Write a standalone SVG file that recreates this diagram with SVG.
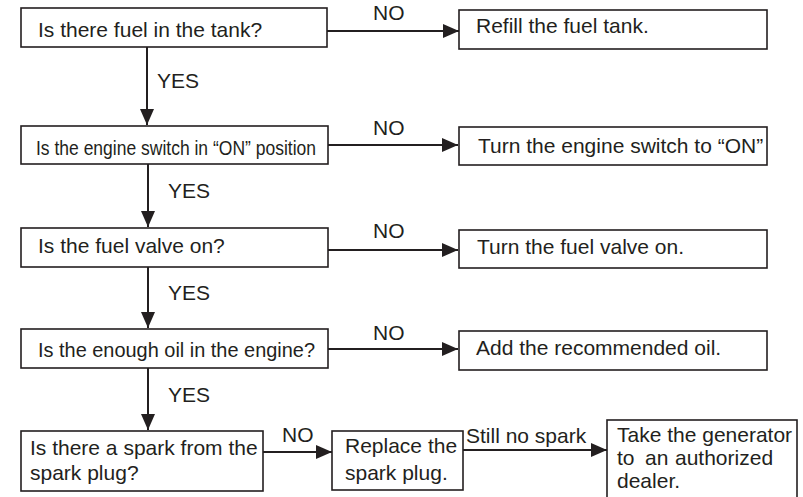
<svg xmlns="http://www.w3.org/2000/svg" width="803" height="497" viewBox="0 0 803 497">
<style>
.box{fill:#fff;stroke:#231f20;stroke-width:1.6}
.t{font-family:"Liberation Sans",Arial,sans-serif;font-size:21px;fill:#231f20}
.c{stroke:#231f20;stroke-width:2;fill:none}
</style>
<defs>
<marker id="ah" markerUnits="userSpaceOnUse" markerWidth="16" markerHeight="16" viewBox="0 0 16 16" refX="16" refY="8" orient="auto">
<path d="M0,1 L16,8 L0,15 Z" fill="#231f20"/>
</marker>
</defs>
<rect width="803" height="497" fill="#fff"/>
<g id="connectors">
<line class="c" x1="327" y1="31" x2="459" y2="31" marker-end="url(#ah)"/>
<line class="c" x1="147" y1="47" x2="147" y2="125" marker-end="url(#ah)"/>
<line class="c" x1="328" y1="145" x2="458" y2="145" marker-end="url(#ah)"/>
<line class="c" x1="148" y1="164" x2="148" y2="227" marker-end="url(#ah)"/>
<line class="c" x1="328" y1="250" x2="458" y2="250" marker-end="url(#ah)"/>
<line class="c" x1="148" y1="267" x2="148" y2="328" marker-end="url(#ah)"/>
<line class="c" x1="328" y1="349" x2="458" y2="349" marker-end="url(#ah)"/>
<line class="c" x1="148" y1="368" x2="148" y2="430" marker-end="url(#ah)"/>
<line class="c" x1="263" y1="452" x2="332" y2="452" marker-end="url(#ah)"/>
<line class="c" x1="463" y1="450" x2="607" y2="450" marker-end="url(#ah)"/>
<text class="t" x="373" y="20">NO</text>
<text class="t" x="373" y="135">NO</text>
<text class="t" x="373" y="238">NO</text>
<text class="t" x="373" y="340">NO</text>
<text class="t" x="282" y="442">NO</text>
<text class="t" x="157" y="88">YES</text>
<text class="t" x="168" y="198">YES</text>
<text class="t" x="168" y="300">YES</text>
<text class="t" x="168" y="402">YES</text>
<text class="t" x="466" y="443">Still no spark</text>
</g>
<g id="q1"><rect class="box" x="21" y="8" width="306" height="39"/><text class="t" x="38" y="37">Is there fuel in the tank?</text></g>
<g id="a1"><rect class="box" x="459" y="10" width="308" height="39"/><text class="t" x="476" y="33">Refill the fuel tank.</text></g>
<g id="q2"><rect class="box" x="21" y="126" width="307" height="38"/><text class="t" x="36" y="155" textLength="280" lengthAdjust="spacingAndGlyphs">Is the engine switch in “ON” position</text></g>
<g id="a2"><rect class="box" x="459" y="127" width="308" height="38"/><text class="t" x="478" y="153">Turn the engine switch to “ON”</text></g>
<g id="q3"><rect class="box" x="21" y="228" width="307" height="39"/><text class="t" x="38" y="253">Is the fuel valve on?</text></g>
<g id="a3"><rect class="box" x="459" y="230" width="308" height="38"/><text class="t" x="477" y="254">Turn the fuel valve on.</text></g>
<g id="q4"><rect class="box" x="21" y="329" width="307" height="39"/><text class="t" x="38" y="357" textLength="277" lengthAdjust="spacingAndGlyphs">Is the enough oil in the engine?</text></g>
<g id="a4"><rect class="box" x="459" y="331" width="308" height="39"/><text class="t" x="476" y="355">Add the recommended oil.</text></g>
<g id="q5"><rect class="box" x="21" y="431" width="242" height="60"/><text class="t" x="30" y="455">Is there a spark from the</text><text class="t" x="30" y="480">spark plug?</text></g>
<g id="a5"><rect class="box" x="332" y="431" width="131" height="59"/><text class="t" x="345" y="453">Replace the</text><text class="t" x="345" y="480">spark plug.</text></g>
<g id="a6"><rect class="box" x="607" y="420" width="190" height="82"/><text class="t" x="617" y="442">Take the generator</text><text class="t" y="465"><tspan x="617">to</tspan><tspan x="645">an</tspan><tspan x="675">authorized</tspan></text><text class="t" x="617" y="488">dealer.</text></g>
</svg>
